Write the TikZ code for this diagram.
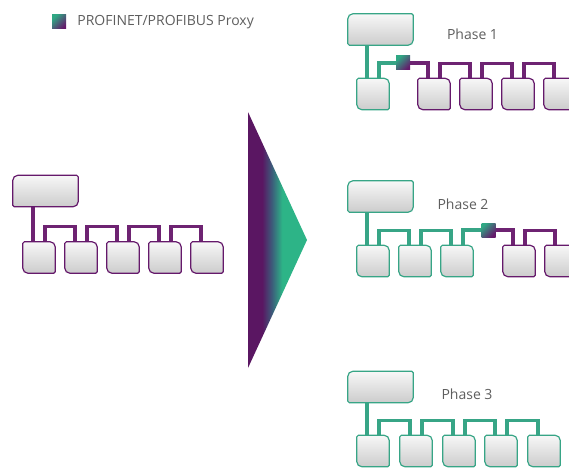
\documentclass[tikz,border=0pt]{standalone}
\usepackage{fontspec}
\setmainfont{Open Sans}
\usetikzlibrary{positioning}

\definecolor{pbpurple}{HTML}{65196B}
\definecolor{pbline}{HTML}{6E2372}
\definecolor{pngreen}{HTML}{2FA884}
\definecolor{pnline}{HTML}{37A586}
\definecolor{tripurple}{HTML}{5A1662}
\definecolor{trimid}{HTML}{3D5A7A}
\definecolor{trigreen}{HTML}{2DB487}
\definecolor{labelgray}{HTML}{5E5E5E}

\pgfdeclarehorizontalshading{tripshade}{100bp}{color(0bp)=(tripurple); color(37bp)=(tripurple); color(45bp)=(trimid); color(54bp)=(trigreen); color(100bp)=(trigreen)}

\tikzset{
  dev/.style={rectangle, minimum width=32pt, minimum height=31pt, inner sep=0pt},
  ctrl/.style={dev, minimum width=65pt, minimum height=31pt},
  devline/.style={draw=#1, line width=1.2pt, top color=gray!6, bottom color=gray!40},
  proxy/.style={minimum size=14pt, inner sep=0pt, top color=pngreen, bottom color=pbpurple, shading angle=45},
  pbus/.style={draw=pbline, line width=3.2pt},
  gbus/.style={draw=pnline, line width=3.2pt},
  phase/.style={text=labelgray, font=\fontsize{14}{16}\selectfont, inner sep=0pt}
}

% outline of a device: #1 node, #2 colour, #3 radius nw/se, #4 radius ne/sw
\newcommand{\devbox}[4]{%
  \draw [devline=#2] (#1.west) [rounded corners=#3] |- (#1.north) [rounded corners=#4] -| (#1.east)
    [rounded corners=#3] |- (#1.south) [rounded corners=#4] -| (#1.west) [sharp corners] -- cycle;}

\begin{document}
\begin{tikzpicture}[x=1pt,y=-1pt]
\useasboundingbox (0,0) rectangle (569,468);
\clip (0,0) rectangle (569,468);

% legend
\node (lgsq) at (59,22) [proxy] {};
\node (lgtxt) [phase, right=11pt of lgsq] {PROFINET/PROFIBUS Proxy};

% PROFIBUS network
\node (LT) at (45.5,191) [ctrl] {};
\foreach \i/\x in {1/39, 2/81, 3/123, 4/165, 5/207}
  \node (L\i) at (\x,257.5) [dev] {};

\draw [pbus] ([xshift=-6pt]L1.north) -- ([xshift=-6pt]L1.north |- LT.south);
\foreach \a/\b in {L1/L2, L2/L3, L3/L4, L4/L5}
  \draw [pbus] ([xshift=6pt]\a.north) -- ++(0,-15) -| ([xshift=-6pt]\b.north);

\devbox{LT}{pbpurple}{5pt}{1.5pt}
\foreach \n in {L1, L2, L3, L4, L5}
  {\devbox{\n}{pbpurple}{1.5pt}{5pt}}

% migration arrow
\shade [shading=tripshade] (248,112) -- (307,240) -- (248,368) -- cycle;

% Phase 1
\node (AT) at (380.5,29.5) [ctrl] {};
\foreach \i/\x in {1/373, 2/434, 3/476, 4/518, 5/560}
  \node (A\i) at (\x,94) [dev] {};
\node (ph1) at (472.5,34) [phase] {Phase 1};

\draw [gbus] ([xshift=-6pt]A1.north) -- ([xshift=-6pt]A1.north |- AT.south);
\node (P1) at (403,63) [proxy] {};
\draw [gbus] ([xshift=6pt]A1.north) |- (P1.west);
\draw [pbus] (P1.east) -| ([xshift=-6pt]A2.north);
\foreach \a/\b in {A2/A3, A3/A4, A4/A5}
  \draw [pbus] ([xshift=6pt]\a.north) -- ++(0,-15) -| ([xshift=-6pt]\b.north);

\devbox{AT}{pnline}{5pt}{1.5pt}
\devbox{A1}{pnline}{1.5pt}{5pt}
\foreach \n in {A2, A3, A4, A5}
  {\devbox{\n}{pbpurple}{1.5pt}{5pt}}

% Phase 2
\node (BT) at (380.5,196.5) [ctrl] {};
\foreach \i/\x in {1/373, 2/415, 3/457, 4/519, 5/561}
  \node (B\i) at (\x,261) [dev] {};
\node (ph2) at (463,204) [phase] {Phase 2};

\draw [gbus] ([xshift=-6pt]B1.north) -- ([xshift=-6pt]B1.north |- BT.south);
\foreach \a/\b in {B1/B2, B2/B3}
  \draw [gbus] ([xshift=6pt]\a.north) -- ++(0,-15) -| ([xshift=-6pt]\b.north);
\node (P2) at (488.5,230) [proxy] {};
\draw [gbus] ([xshift=6pt]B3.north) |- (P2.west);
\draw [pbus] (P2.east) -| ([xshift=-6pt]B4.north);
\draw [pbus] ([xshift=6pt]B4.north) -- ++(0,-15) -| ([xshift=-6pt]B5.north);

\devbox{BT}{pnline}{5pt}{1.5pt}
\foreach \n in {B1, B2, B3}
  {\devbox{\n}{pnline}{1.5pt}{5pt}}
\foreach \n in {B4, B5}
  {\devbox{\n}{pbpurple}{1.5pt}{5pt}}

% Phase 3
\node (CT) at (380.5,387) [ctrl] {};
\foreach \i/\x in {1/373, 2/416, 3/459, 4/501, 5/544}
  \node (C\i) at (\x,451) [dev] {};
\node (ph3) at (467,394) [phase] {Phase 3};

\draw [gbus] ([xshift=-6pt]C1.north) -- ([xshift=-6pt]C1.north |- CT.south);
\foreach \a/\b in {C1/C2, C2/C3, C3/C4, C4/C5}
  \draw [gbus] ([xshift=6pt]\a.north) -- ++(0,-15) -| ([xshift=-6pt]\b.north);

\devbox{CT}{pnline}{5pt}{1.5pt}
\foreach \n in {C1, C2, C3, C4, C5}
  {\devbox{\n}{pnline}{1.5pt}{5pt}}

\end{tikzpicture}
\end{document}
